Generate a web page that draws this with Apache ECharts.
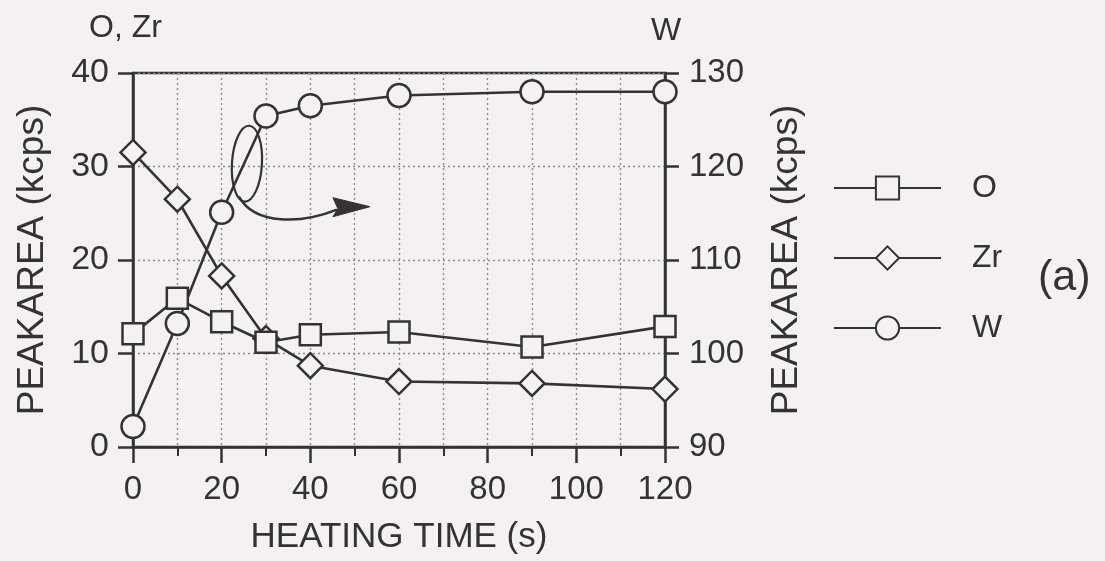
<!DOCTYPE html>
<html>
<head>
<meta charset="utf-8">
<script src="https://cdn.jsdelivr.net/npm/echarts@6/dist/echarts.min.js"></script>
<style>
html,body{margin:0;padding:0;background:#f4f0f3;}
#c{width:1105px;height:561px;}
</style>
</head>
<body>
<div id="c"></div>
<script>
const times = [0, 10, 20, 30, 40, 60, 90, 120];
const oValues = [12.1, 15.9, 13.4, 11.2, 12.0, 12.3, 10.7, 12.9];
const zrValues = [31.5, 26.5, 18.3, 11.6, 8.7, 7.0, 6.8, 6.2];
const wValues = [92.2, 103.2, 115.1, 125.4, 126.5, 127.6, 128.0, 128.0];
const legendNames = ['O', 'Zr', 'W'];

const INK = '#333333';
const BG = '#f4f0f3';
const FONT = 'Liberation Sans, Arial, Helvetica, sans-serif';
const pairs = (vals) => times.map((t, i) => [t, vals[i]]);

const chart = echarts.init(document.getElementById('c'), null, {renderer: 'canvas'});

const lineSeries = (name, vals, symbol, size, yIdx) => ({
  name: name, type: 'line', data: pairs(vals), yAxisIndex: yIdx,
  symbol: symbol, symbolSize: size, showAllSymbol: true,
  lineStyle: {color: INK, width: 2.6},
  itemStyle: {color: BG, borderColor: INK, borderWidth: 2.5},
  emphasis: {disabled: true}, animation: false
});

const dotted = {color: '#8c8c8c', width: 1.4, type: [2, 3]};

const option = {
  backgroundColor: BG,
  animation: false,
  textStyle: {fontFamily: FONT, color: INK},
  grid: {left: 133, right: 440, top: 73, bottom: 114, show: true,
         borderColor: INK, borderWidth: 2.5, backgroundColor: 'transparent'},
  legend: {
    orient: 'vertical', left: 833, top: 172, padding: 0,
    data: legendNames,
    itemWidth: 107, itemHeight: 29, itemGap: 38,
    textStyle: {fontSize: 32, color: INK, fontFamily: FONT, padding: [0, 0, 0, 26]},
    selectedMode: false
  },
  xAxis: {
    type: 'value', min: 0, max: 120, interval: 20,
    name: 'HEATING TIME (s)', nameLocation: 'middle', nameGap: 73,
    nameTextStyle: {fontSize: 35, color: INK, fontFamily: FONT},
    axisLine: {show: true, lineStyle: {color: INK, width: 2.5}},
    axisTick: {show: true, inside: false, length: 16, lineStyle: {color: INK, width: 2.5}},
    minorTick: {show: true, splitNumber: 2, length: 9, lineStyle: {color: INK, width: 2}},
    axisLabel: {fontSize: 33, color: INK, margin: 26, fontFamily: FONT},
    splitLine: {show: true, lineStyle: dotted},
    minorSplitLine: {show: true, lineStyle: dotted}
  },
  yAxis: [
    {
      type: 'value', min: 0, max: 40, interval: 10, position: 'left',
      name: 'PEAKAREA (kcps)', nameLocation: 'middle', nameGap: 82, nameRotate: 90,
      nameTextStyle: {fontSize: 37, color: INK, fontFamily: FONT},
      axisLine: {show: true, lineStyle: {color: INK, width: 2.5}},
      axisTick: {show: true, length: 15, lineStyle: {color: INK, width: 2.5}},
      axisLabel: {fontSize: 34, color: INK, margin: 24, fontFamily: FONT},
      splitLine: {show: true, lineStyle: dotted}
    },
    {
      type: 'value', min: 90, max: 130, interval: 10, position: 'right',
      name: 'PEAKAREA (kcps)', nameLocation: 'middle', nameGap: 103, nameRotate: 90,
      nameTextStyle: {fontSize: 37, color: INK, fontFamily: FONT},
      axisLine: {show: true, lineStyle: {color: INK, width: 2.5}},
      axisTick: {show: true, length: 14, lineStyle: {color: INK, width: 2.5}},
      axisLabel: {fontSize: 33, color: INK, margin: 24, fontFamily: FONT},
      splitLine: {show: false}
    }
  ],
  series: [
    lineSeries('W', wValues, 'circle', 23, 1),
    lineSeries('Zr', zrValues, 'diamond', 25, 0),
    lineSeries('O', oValues, 'rect', 21, 0)
  ]
};
chart.setOption(option);

// annotation: ellipse around W curve and arrow pointing to the right axis
const anchor = chart.convertToPixel({xAxisIndex: 0, yAxisIndex: 0}, [25.7, 30.3]);
const ax = anchor[0], ay = anchor[1];
chart.setOption({
  graphic: [
    {type: 'ellipse', shape: {cx: ax, cy: ay, rx: 15, ry: 38}, rotation: -0.06, originX: ax, originY: ay,
     style: {fill: 'none', stroke: INK, lineWidth: 2.2}, z: 10},
    {type: 'bezierCurve', shape: {x1: ax - 8, y1: ay + 33, cpx1: ax + 8, cpy1: ay + 62, cpx2: ax + 55, cpy2: ay + 60, x2: ax + 90, y2: ay + 46},
     style: {fill: 'none', stroke: INK, lineWidth: 2.5}, z: 10},
    {type: 'polygon', shape: {points: [[ax + 123, ay + 43], [ax + 86, ay + 34], [ax + 91, ay + 45], [ax + 86, ay + 53]]},
     style: {fill: INK, stroke: INK, lineWidth: 1}, z: 10},
    {type: 'text', left: 89, top: 12, style: {text: 'O, Zr', font: '32px ' + FONT, fill: INK}},
    {type: 'text', left: 651, top: 15, style: {text: 'W', font: '32px ' + FONT, fill: INK}},
    {type: 'text', left: 1038, top: 257, style: {text: '(a)', font: '43px ' + FONT, fill: INK}}
  ]
});
</script>
</body>
</html>
